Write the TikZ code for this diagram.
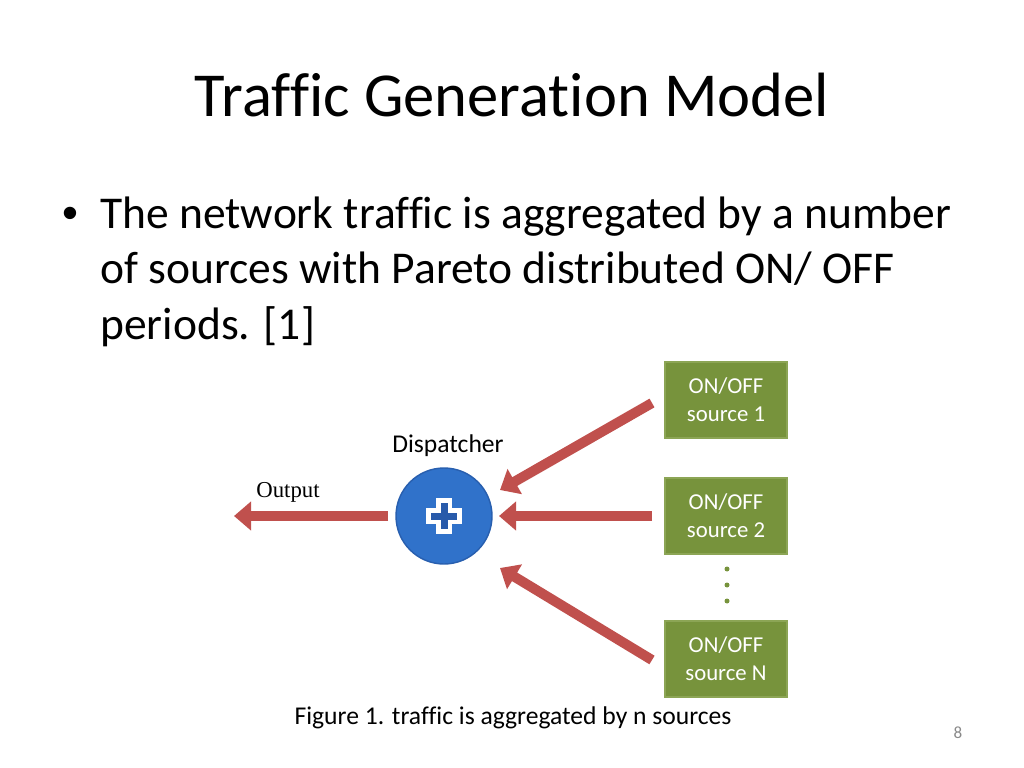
\documentclass[tikz,border=0pt]{standalone}
\usepackage{fontspec}
\setmainfont[Ligatures=NoCommon]{Carlito}
\newfontfamily\timesf{Liberation Serif}
\newfontfamily\arialf{Liberation Sans}
\usetikzlibrary{arrows.meta}
\definecolor{srcgreen}{RGB}{119,147,60}
\definecolor{srcborder}{RGB}{140,165,85}
\definecolor{arrred}{RGB}{192,80,77}
\definecolor{dispblue}{RGB}{48,114,202}
\definecolor{dispborder}{RGB}{40,95,175}
\definecolor{crossdark}{RGB}{40,90,170}
\definecolor{pagegray}{RGB}{137,137,137}
\tikzset{
  srcbox/.style={draw=srcborder, line width=1pt, fill=srcgreen, minimum width=122*0.703125pt, minimum height=76*0.703125pt, inner sep=0pt, align=center, text=white, font=\fontsize{16}{19.5}\selectfont},
  flow/.style={draw=arrred, line width=10*0.703125pt, -{Triangle[width=28*0.703125pt, length=17*0.703125pt]}, arrred},
  gdot/.style={circle, fill=srcgreen, minimum size=5*0.703125pt, inner sep=0pt},
  lbl/.style={inner sep=0pt, font=\fontsize{16}{19.5}\selectfont},
  biglbl/.style={inner sep=0pt, font=\fontsize{18}{21.6}\selectfont},
  bodytext/.style={inner sep=0pt, anchor=base west, font=\fontsize{32}{38.9}\selectfont}
}
\begin{document}
\begin{tikzpicture}[x=0.703125pt, y=-0.703125pt]
\useasboundingbox (0,0) rectangle (1024,768);
% title
\node[inner sep=0pt, anchor=base, font=\fontsize{44}{53}\selectfont] (title) at (512,117) {Traffic Generation Model};
% bullet
\node[inner sep=0pt, anchor=base west, font=\arialf\fontsize{32}{38.4}\selectfont] (bul) at (62,229) {•};
\node[bodytext] (body) at (100,229) {The network traffic is aggregated by a number};
\node[bodytext] (body2) at (100,284) {of sources with Pareto distributed ON/ OFF};
\node[bodytext] (body3) at (100,339) {periods. [1]};
% sources
\node[srcbox] (s1) at (726,400) {ON/OFF\\source 1};
\node[srcbox] (s2) at (726,516) {ON/OFF\\source 2};
\node[srcbox] (sN) at (726,659) {ON/OFF\\source N};
\node[gdot] (d1) at (727,569) {};
\node[gdot] (d2) at (727,585) {};
\node[gdot] (d3) at (727,601) {};
% dispatcher
\node[circle, draw=dispborder, line width=1pt, fill=dispblue, minimum size=96*0.703125pt, inner sep=0pt] (disp) at (444,516) {};
\fill[white] (436,498) rectangle (452,534);
\fill[white] (426,508) rectangle (462,524);
\fill[crossdark] (440.5,503) rectangle (447.5,529);
\fill[crossdark] (431,512.5) rectangle (457,519.5);
\node[biglbl, anchor=base] (dlabel) at (448,452) {Dispatcher};
\node[lbl, anchor=base, font=\timesf\fontsize{16}{19}\selectfont] (olabel) at (288,497) {Output};
% connectors
\coordinate (a1s) at (652,403);
\coordinate (a1e) at (500,490);
\coordinate (a2s) at (652,516);
\coordinate (a2e) at (499,516);
\coordinate (aNs) at (652,660);
\coordinate (aNe) at (500,568);
\coordinate (outs) at (388,516);
\coordinate (oute) at (234,516);
\draw[flow] (a1s) -- (a1e);
\draw[flow] (a2s) -- (a2e);
\draw[flow] (aNs) -- (aNe);
\draw[flow] (outs) -- (oute);
% caption
\node[biglbl, anchor=base] (cap) at (513,724) {Figure 1. traffic is aggregated by n sources};
\node[inner sep=0pt, anchor=base, text=pagegray, font=\fontsize{12}{14}\selectfont] (pnum) at (958,738) {8};
\end{tikzpicture}
\end{document}
